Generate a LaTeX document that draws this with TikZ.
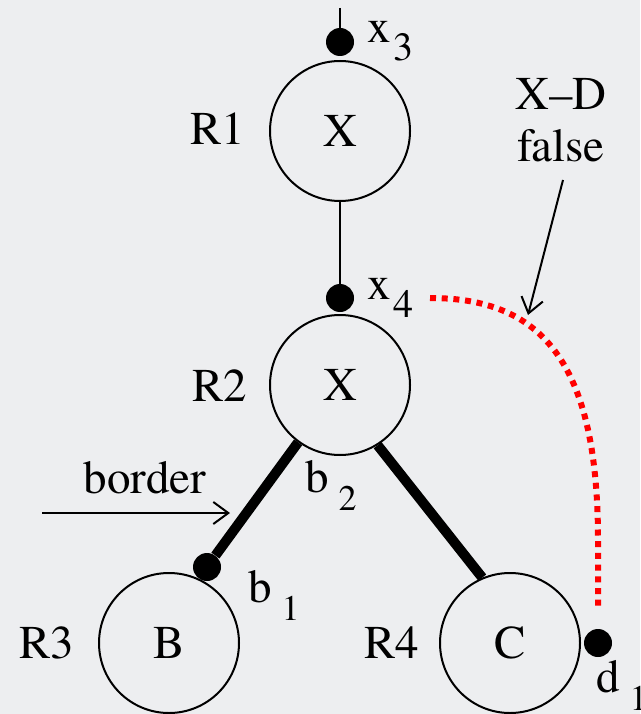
\documentclass[tikz,border=0pt]{standalone}
\usepackage{fontspec}
\setmainfont{texgyretermes-regular.otf}
\usetikzlibrary{arrows.meta}
\definecolor{bgray}{RGB}{237,238,240}
\newcommand{\sublab}[4]{#1\kern#3\raisebox{-18pt}{\fontsize{#4}{#4}\selectfont #2}}

\begin{document}
\begin{tikzpicture}[x=1pt,y=-1pt,line join=round,
    font=\fontsize{47}{52}\selectfont,
    region/.style={circle,draw,line width=2pt,minimum size=140pt,inner sep=0pt},
    pin/.style={circle,fill,minimum size=28pt,inner sep=0pt},
    txt/.style={inner sep=0pt},
    bord/.style={line width=10pt},
    arr/.style={line width=2pt,-{Straight Barb[length=15pt,width=22pt]}}]
    % pozadí
    \fill[bgray] (0,0) rectangle (640,714);
    \useasboundingbox (0,0) rectangle (640,714);

    % oblasti
    \node[region] (r1) at (340,131) {X};
    \node[region] (r2) at (340,385) {X};
    \node[region] (r3) at (169,643) {B};
    \node[region] (r4) at (510,643) {C};

    \node[txt] (n1) at (218,129) {R1};
    \node[txt] (n2) at (220,386) {R2};
    \node[txt] (n3) at (47,643) {R3};
    \node[txt] (n4) at (392,643) {R4};

    % body
    \coordinate (top) at (340,8);
    \node[pin] (x3) at (340,42) {};
    \node[pin] (x4) at (340,298) {};
    \node[pin] (b1) at (207,567) {};
    \node[pin] (d1) at (598,643) {};

    \draw[line width=2pt] (top) -- (x3);
    \draw[line width=2pt] (r1) -- (x4);

    % hranice
    \draw[bord] (r2) -- (b1);
    \draw[bord] (r2.-58) -- (r4.113);

    \node[txt,anchor=base west] (x3lab) at (367,43) {\sublab{x}{3}{3pt}{40}};
    \node[txt,anchor=base west] (x4lab) at (367,299) {\sublab{x}{4}{3pt}{40}};
    \node[txt,anchor=base west] (b2lab) at (305,492) {\sublab{b}{2}{10pt}{36}};
    \node[txt,anchor=base west] (b1lab) at (248,602) {\sublab{b}{1}{10pt}{36}};
    \node[txt,anchor=base west] (d1lab) at (596,692) {\sublab{d}{1}{10pt}{36}};

    % šipka border
    \node[txt,anchor=base] (brd) at (145,493) {border};
    \coordinate (bs) at (42,513);
    \coordinate (be) at (230,513);
    \draw[arr] (bs) -- (be);

    % X-D false
    \node[txt,anchor=base] (xd) at (561,110) {X–D};
    \node[txt,anchor=base] (fls) at (561,162) {false};
    \coordinate (fs) at (563,180);
    \coordinate (fe) at (528,315);
    \draw[arr] (fs) -- (fe);

    % falešná vazba x4 -- d1
    \coordinate (cs) at (430,298);
    \coordinate (ce) at (598,606);
    \draw[red,line width=6pt,dash pattern=on 6pt off 5.7pt]
        (cs) .. controls (540,298) and (598,360) .. (598,540) -- (ce);
\end{tikzpicture}
\end{document}
